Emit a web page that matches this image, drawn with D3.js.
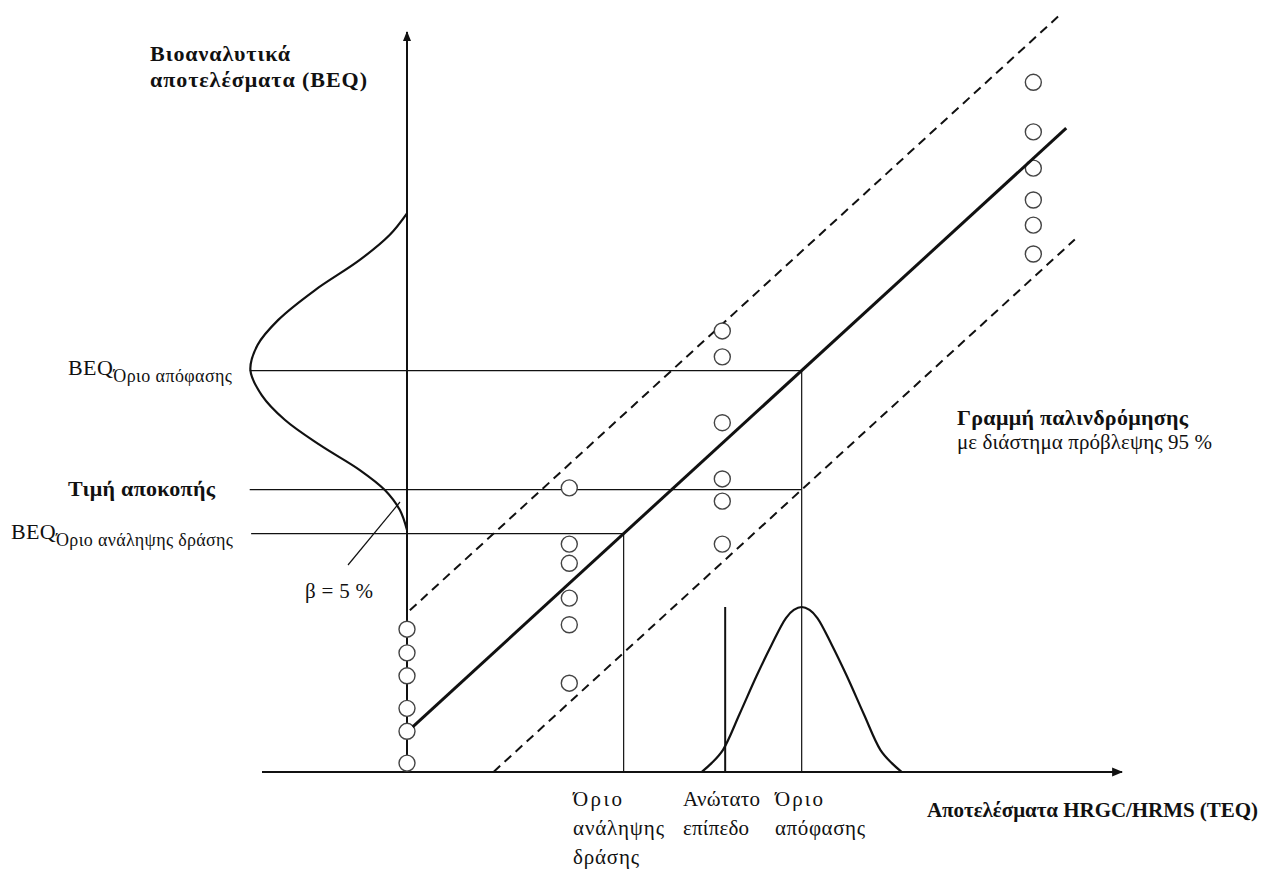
<!DOCTYPE html>
<html lang="el">
<head>
<meta charset="UTF-8">
<title>BEQ / TEQ</title>
<style>
  body { margin: 0; background: #fff; }
  svg text { font-family: 'Liberation Serif', 'Times New Roman', Times, serif; fill: #111; }
  .bold { font-weight: bold; }
</style>
<script src="https://d3js.org/d3.v7.min.js"></script>
</head>
<body>
<svg width="1261" height="872"></svg>
<script>
// regression line BEQ = intercept + slope * TEQ, prediction band +/- piHalf
const regIntercept = 5.4;
const regSlope = 0.885;
const piHalf = 16.1;
const regRange = [0.8, 92.2];
const upperRange = [0.4, 91.3];
const lowerRange = [12.1, 93.4];

const actionTEQ = 30.3;
const decisionTEQ = 55.2;
const maxLevelTEQ = 44.5;

// measurement points, one column per TEQ value
const circleTEQ = [0, 22.7, 44.1, 87.6];
const circleBEQ = [
  [19.3, 16.1, 13.0, 8.6, 5.5, 1.2],
  [38.4, 30.8, 28.2, 23.5, 19.9, 12.0],
  [59.6, 56.1, 47.2, 39.6, 36.6, 30.8],
  [93.2, 86.5, 81.6, 77.3, 73.9, 70.0]
];

// bell on the TEQ axis
const teqBellX = [41.2, 42.6, 44.2, 46.5, 48.9, 51.0, 53.0, 54.1, 55.2, 56.3, 57.4, 59.4, 61.5, 63.9, 66.2, 67.8, 69.2];
const teqBellH = [0, 1.2, 3.0, 7.8, 13.0, 17.2, 20.8, 21.9, 22.3, 21.9, 20.8, 17.2, 13.0, 7.8, 3.0, 1.2, 0];

// bell on the BEQ axis, width drawn to the left of the axis
const beqBellY = [75.5, 72.6, 69.2, 65.1, 61.1, 57.7, 54.3, 50.9, 47.6, 44.2, 40.8, 38.1, 35.4, 32.7];
const beqBellW = [0, 2.4, 6.6, 12.9, 18.0, 20.9, 21.9, 20.3, 17.1, 12.2, 6.6, 3.1, 1.0, 0];

const svg = d3.select('svg');
const x = d3.scaleLinear().domain([-20, 100]).range([264, 1122]);
const y = d3.scaleLinear().domain([0, 100]).range([772, 32]);

const reg = t => regIntercept + regSlope * t;
const decisionBEQ = reg(decisionTEQ);
const actionBEQ = reg(actionTEQ);
const cutoffBEQ = decisionBEQ - piHalf;

svg.append('defs').append('marker')
    .attr('id', 'arr')
    .attr('viewBox', '0 0 10 10')
    .attr('refX', 9).attr('refY', 5)
    .attr('markerWidth', 5).attr('markerHeight', 5)
    .attr('orient', 'auto')
  .append('path')
    .attr('d', 'M0,1L10,5L0,9z')
    .attr('fill', '#111');

const lineG = svg.append('g').attr('stroke', '#111').attr('fill', 'none');

// reference lines
const thin = [
  [x(-22), y(decisionBEQ), x(decisionTEQ), y(decisionBEQ)],
  [x(-22), y(cutoffBEQ), x(decisionTEQ), y(cutoffBEQ)],
  [x(-21.8), y(actionBEQ), x(actionTEQ), y(actionBEQ)],
  [x(decisionTEQ), y(decisionBEQ), x(decisionTEQ), y(0)],
  [x(actionTEQ), y(actionBEQ), x(actionTEQ), y(0)]
];
lineG.selectAll('line.ref').data(thin).enter().append('line')
    .attr('class', 'ref')
    .attr('x1', d => d[0]).attr('y1', d => d[1])
    .attr('x2', d => d[2]).attr('y2', d => d[3])
    .attr('stroke-width', 1.2);

lineG.append('line')
    .attr('x1', x(maxLevelTEQ)).attr('y1', y(0))
    .attr('x2', x(maxLevelTEQ)).attr('y2', y(d3.max(teqBellH)))
    .attr('stroke-width', 2);

// axes
lineG.append('line')
    .attr('x1', x.range()[0] - 2).attr('y1', y(0))
    .attr('x2', x.range()[1]).attr('y2', y(0))
    .attr('stroke-width', 2.2)
    .attr('marker-end', 'url(#arr)');
lineG.append('line')
    .attr('x1', x(0)).attr('y1', y(0))
    .attr('x2', x(0)).attr('y2', y.range()[1])
    .attr('stroke-width', 2)
    .attr('marker-end', 'url(#arr)');

// bells
const teqBell = d3.line()
    .x(d => x(d)).y((d, i) => y(teqBellH[i]))
    .curve(d3.curveCatmullRom.alpha(0.5));
lineG.append('path').attr('d', teqBell(teqBellX)).attr('stroke-width', 2.2);

const beqBell = d3.line()
    .x((d, i) => x(-beqBellW[i])).y(d => y(d))
    .curve(d3.curveCatmullRom.alpha(0.5));
lineG.append('path').attr('d', beqBell(beqBellY)).attr('stroke-width', 2.2);

// beta pointer
lineG.append('line')
    .attr('x1', 348).attr('y1', 565).attr('x2', 400).attr('y2', 502)
    .attr('stroke-width', 1.2);

// prediction band
const band = [
  { r: upperRange, off: piHalf },
  { r: lowerRange, off: -piHalf }
];
lineG.selectAll('line.pi').data(band).enter().append('line')
    .attr('class', 'pi')
    .attr('x1', d => x(d.r[0])).attr('y1', d => y(reg(d.r[0]) + d.off))
    .attr('x2', d => x(d.r[1])).attr('y2', d => y(reg(d.r[1]) + d.off))
    .attr('stroke-width', 2)
    .attr('stroke-dasharray', '9,6');

// circles
const pts = [];
circleTEQ.forEach((t, i) => circleBEQ[i].forEach(b => pts.push([t, b])));
svg.append('g').selectAll('circle').data(pts).enter().append('circle')
    .attr('cx', d => x(d[0])).attr('cy', d => y(d[1]))
    .attr('r', 8)
    .attr('fill', '#fff')
    .attr('stroke', '#444')
    .attr('stroke-width', 1.4);

// regression line on top
svg.append('line')
    .attr('x1', x(regRange[0])).attr('y1', y(reg(regRange[0])))
    .attr('x2', x(regRange[1])).attr('y2', y(reg(regRange[1])))
    .attr('stroke', '#111')
    .attr('stroke-width', 3);

// labels (the original face is wider, so stretch spacing to its width)
const txt = (px, py, s, size, w, cls) => svg.append('text')
    .attr('x', px).attr('y', py)
    .attr('font-size', size)
    .attr('class', cls || null)
    .attr('textLength', w)
    .attr('lengthAdjust', 'spacing')
    .text(s);

txt(150, 61, 'Βιοαναλυτικά', 22, 140, 'bold');
txt(150, 87, 'αποτελέσματα (BEQ)', 22, 217, 'bold');
txt(68, 496, 'Τιμή αποκοπής', 22, 147, 'bold');
txt(957, 425, 'Γραμμή παλινδρόμησης', 22, 231, 'bold');
txt(957, 449, 'με διάστημα πρόβλεψης 95 %', 21, 255);
txt(927, 817, 'Αποτελέσματα HRGC/HRMS (TEQ)', 21, 331, 'bold');
txt(305, 598, 'β = 5 %', 21, 68);

const sub = (px, py, s, w) => {
  const t = svg.append('text').attr('x', px).attr('y', py).attr('font-size', 22)
      .attr('textLength', w).attr('lengthAdjust', 'spacing');
  t.append('tspan').text('BEQ');
  t.append('tspan').attr('font-size', 18).attr('dy', 7).text(s);
};
sub(68, 375, 'Όριο απόφασης', 164);
sub(11, 539, 'Όριο ανάληψης δράσης', 222);

const bottom = [
  { px: 573, lines: ['Όριο', 'ανάληψης', 'δράσης'], w: [49, 91, 66] },
  { px: 683, lines: ['Ανώτατο', 'επίπεδο'], w: [77, 66] },
  { px: 775, lines: ['Όριο', 'απόφασης'], w: [48, 90] }
];
bottom.forEach(b => b.lines.forEach((s, i) => txt(b.px, 806 + i * 29, s, 21, b.w[i])));
</script>
</body>
</html>
